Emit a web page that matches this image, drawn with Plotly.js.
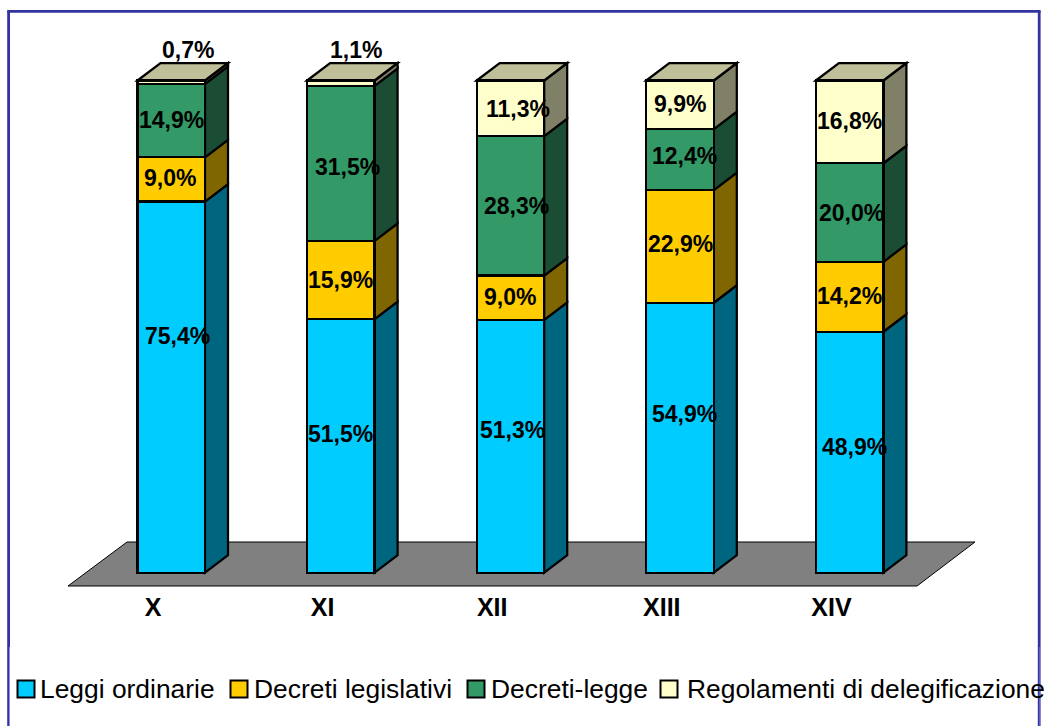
<!DOCTYPE html>
<html>
<head>
<meta charset="utf-8">
<script src="https://cdn.plot.ly/plotly-3.0.1.min.js"></script>
<style>html,body{margin:0;padding:0;background:#fff}#chart{width:1045px;height:726px}</style>
</head>
<body>
<div id="chart"></div>
<script>
// ---- data ----
const legislatures = ['X', 'XI', 'XII', 'XIII', 'XIV'];
const seriesNames = ['Leggi ordinarie', 'Decreti legislativi', 'Decreti-legge', 'Regolamenti di delegificazione'];
const leggiOrdinarie = [75.4, 51.5, 51.3, 54.9, 48.9];
const decretiLegislativi = [9.0, 15.9, 9.0, 22.9, 14.2];
const decretiLegge = [14.9, 31.5, 28.3, 12.4, 20.0];
const regolamenti = [0.7, 1.1, 11.3, 9.9, 16.8];

// ---- styling ----
const W = 1045, H = 726;
const frontColors = ['#00CCFF', '#FFCC00', '#339966', '#FFFFCC'];
const sideColors = ['#006680', '#806600', '#1A4D33', '#808066'];
const topColor = '#BFBF99';
const frameColor = '#3333A0';
const FONT = 'Liberation Sans, Arial, sans-serif';
const pxPerCat = 169.6, pxPerPct = 4.922;
const tickPx0 = 153, zeroPy = 572.7, axisPy = 590, framePy = 11;
const barOffset = -15.5 / pxPerCat, barWidth = 67.5 / pxPerCat;
const depthX = 23 / pxPerCat, depthY = 17.5 / pxPerPct;
// label nudges from the segment centre, in pixels, per series then per legislature
const nudgeX = [[6, 0, 2, 4, 5], [-1, 0, 0, 0, 0], [0, 7, 6, 4, 2], [17, 15, 8, 0, 0]];
const nudgeY = [[51, 12, 16, 24, 5], [1, 0, 1, 2, 1], [1, -4, 0, 4, 0], [32, 33, -1, 1, 1]];
const legendSwatchPx = [26, 239, 476, 669];
const legendTextPx = [41, 255, 492, 688];
const legendPy = 689;

const series = [leggiOrdinarie, decretiLegislativi, decretiLegge, regolamenti];
const idx = legislatures.map((_, i) => i);
const px = v => v / W, py = v => 1 - v / H;

const traces = series.map((vals, s) => ({
  type: 'bar', x: idx, y: vals, name: seriesNames[s],
  offset: barOffset, width: barWidth,
  marker: {color: frontColors[s], line: {color: '#000', width: 2.25}},
  hoverinfo: 'skip', showlegend: false
}));

const shapes = [];
// floor
shapes.push({type: 'path', xref: 'paper', yref: 'paper', layer: 'below',
  path: `M${px(68)},${py(586)} L${px(127)},${py(542)} L${px(975)},${py(542)} L${px(917)},${py(586)} Z`,
  fillcolor: '#808080', line: {color: '#000', width: 1}});

const annotations = [];
idx.forEach(i => {
  const total = series.reduce((a, v) => a + v[i], 0);
  const R = i + barOffset + barWidth, L = i + barOffset;
  let cum = 0;
  series.forEach((vals, s) => {
    const y0 = cum / total * 100;
    cum += vals[i];
    const y1 = cum / total * 100;
    // side face of this segment
    shapes.push({type: 'path', xref: 'x', yref: 'y', layer: 'below',
      path: `M${R},${y0} L${R + depthX},${y0 + depthY} L${R + depthX},${y1 + depthY} L${R},${y1} Z`,
      fillcolor: sideColors[s], line: {color: '#000', width: 2.25}});
    annotations.push({
      x: i + barOffset + barWidth / 2, y: (y0 + y1) / 2, xref: 'x', yref: 'y',
      xshift: nudgeX[s][i], yshift: nudgeY[s][i],
      text: vals[i].toFixed(1).replace('.', ',') + '%', showarrow: false,
      xanchor: 'center', yanchor: 'middle',
      font: {family: FONT, size: 23, color: '#000', weight: 700}
    });
  });
  // top cap
  shapes.push({type: 'path', xref: 'x', yref: 'y', layer: 'below',
    path: `M${L},100 L${L + depthX},${100 + depthY} L${R + depthX},${100 + depthY} L${R},100 Z`,
    fillcolor: topColor, line: {color: '#000', width: 2.25}});
});

// frame: top, left, right (open at the bottom)
[[8.6, 726, 8.6, 11.3], [7.2, 11.3, 1040.6, 11.3], [1039.2, 11.3, 1039.2, 726]].forEach(p => shapes.push({
  type: 'line', xref: 'paper', yref: 'paper', layer: 'above',
  x0: px(p[0]), y0: py(p[1]), x1: px(p[2]), y1: py(p[3]),
  line: {color: frameColor, width: 2.8}
}));
// paler edge on the lower part of the frame
[9.5, 1040].forEach(x => shapes.push({
  type: 'line', xref: 'paper', yref: 'paper', layer: 'above',
  x0: px(x), y0: py(726), x1: px(x), y1: py(647),
  line: {color: '#8C8CDC', width: 1}
}));

// legend
seriesNames.forEach((name, s) => {
  const c = legendSwatchPx[s];
  shapes.push({type: 'rect', xref: 'paper', yref: 'paper', layer: 'above',
    x0: px(c - 8.5), x1: px(c + 8.5), y0: py(legendPy + 8.5), y1: py(legendPy - 8.5),
    fillcolor: frontColors[s], line: {color: '#000', width: 2}});
  annotations.push({xref: 'paper', yref: 'paper', x: px(legendTextPx[s]), y: py(legendPy),
    text: name, showarrow: false, xanchor: 'left', yanchor: 'middle', xshift: -3,
    font: {family: FONT, size: 26.4, color: '#000'}});
});

const layout = {
  width: W, height: H, margin: {l: 0, r: 0, t: 0, b: 0},
  paper_bgcolor: '#fff', plot_bgcolor: 'rgba(0,0,0,0)',
  barmode: 'stack', barnorm: 'percent', showlegend: false,
  xaxis: {
    domain: [0, 1], range: [-tickPx0 / pxPerCat, (W - tickPx0) / pxPerCat],
    tickmode: 'array', tickvals: idx, ticktext: legislatures,
    ticks: '', ticklen: 0,
    tickfont: {family: FONT, size: 25, color: '#000', weight: 700},
    showgrid: false, zeroline: false, showline: false
  },
  yaxis: {
    domain: [1 - axisPy / H, 1 - framePy / H],
    range: [(zeroPy - axisPy) / pxPerPct, (zeroPy - framePy) / pxPerPct],
    showticklabels: false, ticks: '', showgrid: false, zeroline: false, showline: false
  },
  shapes, annotations
};
Plotly.newPlot('chart', traces, layout, {displayModeBar: false, staticPlot: true});
</script>
</body>
</html>
